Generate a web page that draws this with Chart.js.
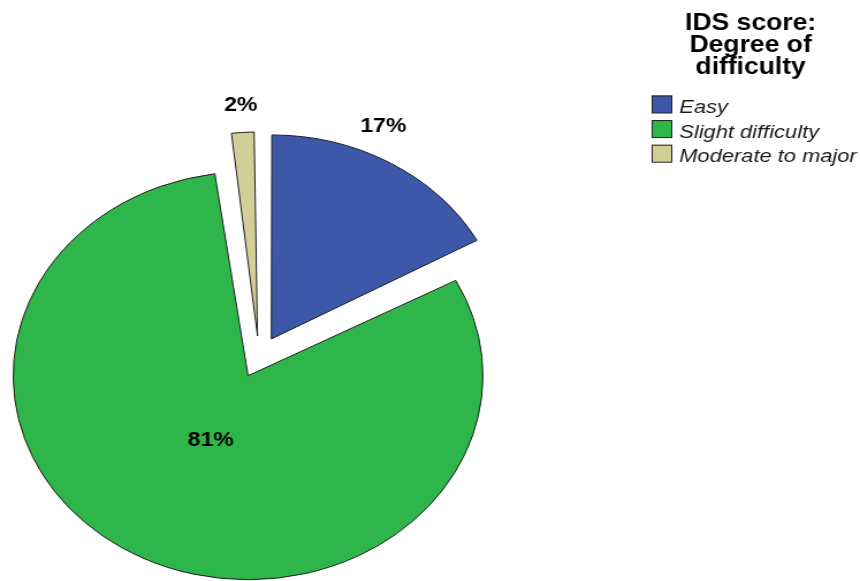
<!DOCTYPE html>
<html>
<head>
<meta charset="utf-8">
<title>IDS score: Degree of difficulty</title>
<script src="https://cdn.jsdelivr.net/npm/chart.js@4.4.1/dist/chart.umd.min.js"></script>
<style>
  html, body { margin: 0; padding: 0; background: #fff; }
  #chart { display: block; }
</style>
</head>
<body>
<!-- drawn narrower, then stretched sideways like the original export (the pie is an ellipse there) -->
<canvas id="chart" width="747" height="581" style="width:860px;height:581px"></canvas>
<script>
const categories = ['Easy', 'Slight difficulty', 'Moderate to major'];
const percents = [17, 81, 2];
const sliceColors = ['#3d58a8', '#2eb64b', '#d3ce98'];
const legendTitle = ['IDS score:', 'Degree of', 'difficulty'];

const FONT = '"Liberation Sans", Arial, sans-serif';
const EXPLODE = 84; // chart.js moves a slice by offset/4

// where each % label sits: fraction along the slice, distance in radii
const labelPlace = [
    { frac: 0.40, dist: 1.15 },
    { frac: 0.50, dist: 0.35 },
    { frac: 0.50, dist: 1.14 }
];

// chart.js makes offset slices a bit bigger, undo that so every slice has the same radius
const evenRadius = {
    id: 'evenRadius',
    beforeDatasetDraw(chart, args) {
        const ctrl = args.meta.controller;
        args.meta.data.forEach(arc => {
            const off = (arc.options.offset || 0) / 4;
            const fix = 1 - Math.sin(Math.min(Math.PI, arc.circumference));
            arc.outerRadius = ctrl.outerRadius - off * fix;
        });
    }
};

// percentage labels
const pctLabels = {
    id: 'pctLabels',
    afterDatasetsDraw(chart) {
        const meta = chart.getDatasetMeta(0);
        const R = meta.controller.outerRadius;
        const ctx = chart.ctx;
        ctx.save();
        ctx.font = 'bold 20px ' + FONT;
        ctx.fillStyle = '#000';
        ctx.textAlign = 'center';
        ctx.textBaseline = 'alphabetic';
        meta.data.forEach((arc, i) => {
            const mid = (arc.startAngle + arc.endAngle) / 2;
            const off = (arc.options.offset || 0) / 4;
            const cx = arc.x + Math.cos(mid) * off;
            const cy = arc.y + Math.sin(mid) * off;
            const p = labelPlace[i];
            const a = arc.startAngle + p.frac * (arc.endAngle - arc.startAngle);
            ctx.fillText(percents[i] + '%', cx + Math.cos(a) * p.dist * R, cy + Math.sin(a) * p.dist * R + 7);
        });
        ctx.restore();
    }
};

// legend on the right with a 3 line title
const sideLegend = {
    id: 'sideLegend',
    afterDraw(chart) {
        const ctx = chart.ctx;
        ctx.save();
        ctx.fillStyle = '#000';
        ctx.textAlign = 'center';
        ctx.textBaseline = 'alphabetic';
        ctx.font = 'bold 23px ' + FONT;
        legendTitle.forEach((t, i) => ctx.fillText(t, 652, 30 + i * 22));

        ctx.font = 'italic 19px ' + FONT;
        ctx.textAlign = 'left';
        categories.forEach((c, i) => {
            const base = 113 + i * 24.6;
            ctx.fillStyle = sliceColors[i];
            ctx.fillRect(566, base - 17.5, 18, 17.5);
            ctx.strokeStyle = '#222';
            ctx.lineWidth = 1;
            ctx.strokeRect(566.5, base - 17, 17, 17);
            ctx.fillStyle = '#1a1a1a';
            ctx.fillText(c, 590, base);
        });
        ctx.restore();
    }
};

new Chart(document.getElementById('chart'), {
    type: 'pie',
    data: {
        labels: categories,
        datasets: [{
            data: percents,
            backgroundColor: sliceColors,
            borderColor: '#1e1e1e',
            borderWidth: 1,
            borderJoinStyle: 'miter',
            offset: EXPLODE,
            hoverOffset: EXPLODE,
            radius: 204,
            clip: false
        }]
    },
    options: {
        responsive: false,
        animation: false,
        devicePixelRatio: 1,
        events: [],
        layout: { padding: { top: 133, right: 297, bottom: 0, left: 0 } },
        plugins: {
            legend: { display: false },
            tooltip: { enabled: false }
        }
    },
    plugins: [evenRadius, pctLabels, sideLegend]
});
</script>
</body>
</html>
